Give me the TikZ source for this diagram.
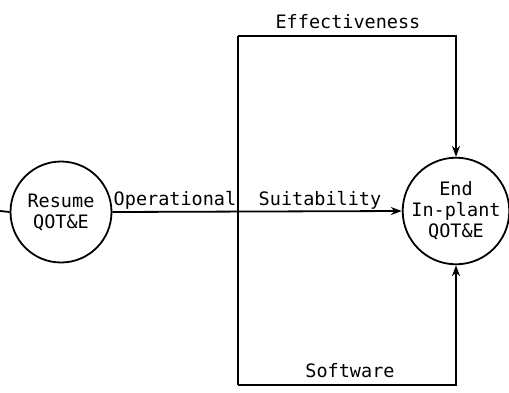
\documentclass[tikz,border=0pt]{standalone}
\usepackage{fontspec}
\newfontfamily\lettering{DejaVu Sans Mono}
\usetikzlibrary{arrows.meta}
\begin{document}
\begin{tikzpicture}[x=1pt,y=-1pt,
  line width=1.8pt,
  lbl/.style={font=\lettering\fontsize{18.5}{21}\selectfont, inner sep=0pt},
  state/.style={circle, draw, line width=1.8pt, align=center, inner sep=0pt,
    font=\lettering\fontsize{18.5}{21}\selectfont},
  flow/.style={-{Stealth[length=11pt,width=8pt]}}]
\useasboundingbox (0,0) rectangle (509,392);
\node[state, minimum size=101pt] (L) at (61,212) {Resume\\QOT\&E};
\node[state, minimum size=102pt] (R) at (456,211) {End\\In-plant\\QOT\&E};
\coordinate (ls) at (0,211);
\coordinate (rs) at (509,211);
\coordinate (tl) at (238,36);
\coordinate (tr) at (456,36);
\coordinate (bl) at (238,385);
\coordinate (br) at (456,385);
\draw (ls) -- (L.west);
\draw (R.east) -- (rs);
\draw[flow] (L.east) -- (R.west);
\draw (tl) -- (bl);
\draw[flow] (tl) -- (tr) -- (R.north);
\draw[flow] (bl) -- (br) -- (R.south);
\node[lbl, anchor=base] (eff) at (348,28) {Effectiveness};
\node[lbl, anchor=base] (soft) at (350,377) {Software};
\node[lbl, anchor=base] (op) at (175,205) {Operational};
\node[lbl, anchor=base] (suit) at (320,205) {Suitability};
\end{tikzpicture}
\end{document}
